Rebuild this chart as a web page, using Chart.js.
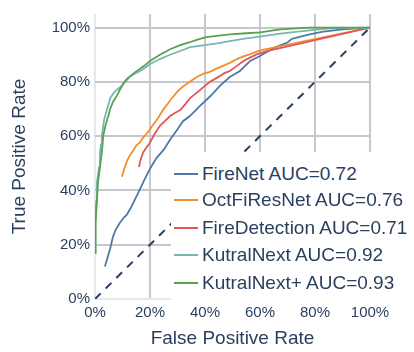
<!DOCTYPE html>
<html>
<head>
<meta charset="utf-8">
<script src="https://cdn.jsdelivr.net/npm/chart.js@4.4.1/dist/chart.umd.min.js"></script>
<style>
  html, body { margin: 0; padding: 0; background: #fff; }
  #wrap { position: relative; width: 414px; height: 352px; }
  #legend { position: absolute; left: 171px; top: 152px; width: 205px; height: 148px; background: #fff;
            font-family: "Liberation Sans", Arial, sans-serif; font-size: 19px; color: #2a3f5f; }
  .row { position: absolute; left: 0; width: 205px; height: 27px; line-height: 27px; white-space: nowrap; }
  .swatch { position: absolute; left: 3px; top: 13px; width: 24px; height: 2px; }
  .label { position: absolute; left: 31px; top: 0; }
</style>
</head>
<body>
<div id="wrap">
  <canvas id="roc" width="414" height="352"></canvas>
  <div id="legend"></div>
</div>
<script>
// ROC curves (false positive rate / true positive rate)
const fireNetFpr = [0.036, 0.045, 0.055, 0.065, 0.075, 0.09, 0.105, 0.115, 0.13, 0.145, 0.164, 0.18, 0.2, 0.224, 0.25, 0.273, 0.3, 0.32, 0.345, 0.38, 0.418, 0.455, 0.49, 0.527, 0.564, 0.6, 0.65, 0.70, 0.715, 0.73, 0.78, 0.83, 0.9, 1.0];
const fireNetTpr = [0.12, 0.15, 0.185, 0.228, 0.255, 0.28, 0.30, 0.31, 0.335, 0.366, 0.406, 0.44, 0.48, 0.52, 0.55, 0.587, 0.625, 0.655, 0.674, 0.71, 0.746, 0.786, 0.818, 0.84, 0.877, 0.895, 0.925, 0.945, 0.958, 0.962, 0.975, 0.985, 0.993, 1.0];

const octFiResNetFpr = [0.098, 0.105, 0.115, 0.127, 0.138, 0.15, 0.164, 0.175, 0.19, 0.2, 0.21, 0.23, 0.247, 0.265, 0.284, 0.3, 0.32, 0.345, 0.37, 0.395, 0.418, 0.44, 0.465, 0.49, 0.516, 0.54, 0.564, 0.59, 0.61, 1.0];
const octFiResNetTpr = [0.45, 0.475, 0.505, 0.53, 0.545, 0.565, 0.578, 0.595, 0.612, 0.625, 0.64, 0.668, 0.696, 0.72, 0.745, 0.765, 0.783, 0.80, 0.818, 0.83, 0.837, 0.848, 0.859, 0.87, 0.884, 0.894, 0.902, 0.912, 0.918, 1.0];

const fireDetectionFpr = [0.16, 0.165, 0.175, 0.185, 0.2, 0.215, 0.236, 0.255, 0.273, 0.29, 0.31, 0.33, 0.345, 0.36, 0.38, 0.40, 0.418, 0.435, 0.455, 0.47, 0.49, 0.515, 0.54, 0.565, 0.59, 0.625, 1.0];
const fireDetectionTpr = [0.486, 0.51, 0.54, 0.555, 0.576, 0.605, 0.638, 0.656, 0.674, 0.685, 0.696, 0.72, 0.739, 0.752, 0.768, 0.785, 0.80, 0.81, 0.822, 0.832, 0.84, 0.858, 0.877, 0.89, 0.902, 0.913, 1.0];

const kutralNextFpr = [0, 0.001, 0.002, 0.004, 0.007, 0.011, 0.015, 0.018, 0.022, 0.025, 0.033, 0.044, 0.05, 0.055, 0.065, 0.073, 0.085, 0.098, 0.11, 0.127, 0.145, 0.164, 0.18, 0.2, 0.236, 0.273, 0.3, 0.327, 0.345, 0.40, 0.45, 0.49, 0.55, 0.6, 0.673, 0.73, 0.78, 0.855, 1.0];
const kutralNextTpr = [0.17, 0.22, 0.28, 0.36, 0.43, 0.46, 0.486, 0.54, 0.57, 0.60, 0.66, 0.70, 0.72, 0.74, 0.755, 0.765, 0.775, 0.786, 0.80, 0.82, 0.83, 0.84, 0.85, 0.866, 0.884, 0.90, 0.91, 0.92, 0.928, 0.935, 0.943, 0.95, 0.96, 0.967, 0.978, 0.984, 0.99, 0.997, 1.0];

const kutralNextPlusFpr = [0, 0.001, 0.003, 0.007, 0.011, 0.018, 0.025, 0.03, 0.037, 0.044, 0.05, 0.055, 0.065, 0.08, 0.09, 0.102, 0.115, 0.127, 0.145, 0.164, 0.18, 0.2, 0.236, 0.273, 0.31, 0.345, 0.37, 0.40, 0.45, 0.49, 0.55, 0.6, 0.673, 0.73, 0.78, 1.0];
const kutralNextPlusTpr = [0.17, 0.22, 0.28, 0.36, 0.43, 0.486, 0.54, 0.60, 0.635, 0.66, 0.68, 0.70, 0.725, 0.75, 0.77, 0.793, 0.81, 0.82, 0.835, 0.848, 0.86, 0.877, 0.90, 0.92, 0.935, 0.946, 0.955, 0.964, 0.97, 0.975, 0.979, 0.982, 0.993, 0.997, 1.0, 1.0];

const chanceFpr = [0, 1];
const chanceTpr = [0, 1];

const modelNames = ['FireNet AUC=0.72', 'OctFiResNet AUC=0.76', 'FireDetection AUC=0.71', 'KutralNext AUC=0.92', 'KutralNext+ AUC=0.93'];
const modelColors = ['#4e79a7', '#f28e2b', '#e15759', '#76b7b2', '#59a14f'];
const tickValues = [0, 0.2, 0.4, 0.6, 0.8, 1.0];

const textColor = '#2a3f5f';
Chart.defaults.font.family = '"Liberation Sans", Arial, sans-serif';

const toPoints = (xs, ys) => xs.map((x, i) => ({ x: x, y: ys[i] }));
const curves = [
  [fireNetFpr, fireNetTpr],
  [octFiResNetFpr, octFiResNetTpr],
  [fireDetectionFpr, fireDetectionTpr],
  [kutralNextFpr, kutralNextTpr],
  [kutralNextPlusFpr, kutralNextPlusTpr]
];

const datasets = curves.map((c, i) => ({
  label: modelNames[i],
  data: toPoints(c[0], c[1]),
  borderColor: modelColors[i],
  borderWidth: 1.8,
  showLine: true,
  pointRadius: 0,
  tension: 0,
  order: 10 - i
}));
datasets.push({
  label: 'chance',
  data: toPoints(chanceFpr, chanceTpr),
  borderColor: textColor,
  borderWidth: 2,
  borderDash: [8, 7],
  showLine: true,
  pointRadius: 0,
  order: 20
});

const gridColor = ctx => (ctx.tick && ctx.tick.value === 0 ? '#e6e8ee' : '#c8c8cc');
const pct = v => Math.round(v * 100) + '%';

const chart = new Chart(document.getElementById('roc'), {
  type: 'scatter',
  data: { datasets: datasets },
  options: {
    responsive: false,
    animation: false,
    layout: { padding: { top: 9, right: 44, left: 0, bottom: 0 } },
    plugins: { legend: { display: false }, tooltip: { enabled: false } },
    scales: {
      x: {
        type: 'linear', min: 0, max: 1,
        afterFit: s => { s.height = 53; },
        afterBuildTicks: s => { s.ticks = tickValues.map(v => ({ value: v })); },
        ticks: { callback: pct, color: textColor, font: { size: 15 }, padding: 5, maxRotation: 0 },
        grid: { color: gridColor, lineWidth: 2, drawTicks: false },
        border: { display: false },
        title: { display: true, text: 'False Positive Rate', color: textColor, font: { size: 19 }, padding: { top: 0, bottom: 2 } }
      },
      y: {
        type: 'linear', min: 0, max: 1.05,
        afterFit: s => { s.width = 95; },
        afterBuildTicks: s => { s.ticks = tickValues.map(v => ({ value: v })); },
        ticks: { callback: pct, color: textColor, font: { size: 15 }, padding: 5 },
        grid: { color: gridColor, lineWidth: 2, drawTicks: false },
        border: { display: false },
        title: { display: true, text: 'True Positive Rate', color: textColor, font: { size: 19 }, padding: { top: 8, bottom: 0 } }
      }
    }
  }
});

// legend box sitting inside the plot, bottom right
const legend = document.getElementById('legend');
const rowCenters = [21, 47, 75, 102, 130];
chart.data.datasets.slice(0, modelNames.length).forEach((ds, i) => {
  const row = document.createElement('div');
  row.className = 'row';
  row.style.top = (rowCenters[i] - 13.5) + 'px';
  const sw = document.createElement('span');
  sw.className = 'swatch';
  sw.style.background = ds.borderColor;
  const lb = document.createElement('span');
  lb.className = 'label';
  lb.textContent = ds.label;
  row.appendChild(sw);
  row.appendChild(lb);
  legend.appendChild(row);
});
</script>
</body>
</html>
